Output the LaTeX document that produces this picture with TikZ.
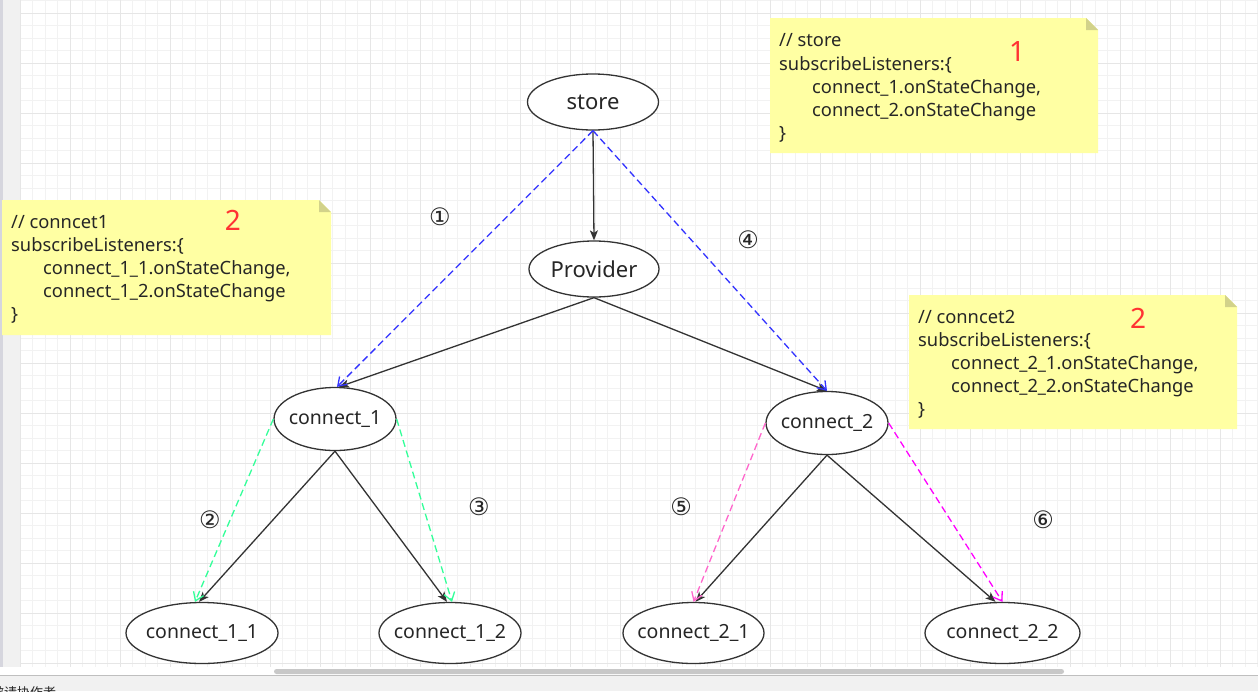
\documentclass[tikz,border=0pt]{standalone}
\usepackage{fontspec}
\setmainfont{Noto Sans}
\newfontfamily\cjkfont{Noto Sans CJK SC}
\newfontfamily\circfont{DejaVu Sans}
\usetikzlibrary{shapes.geometric,arrows.meta}

\definecolor{gridminor}{HTML}{F2F2F2}
\definecolor{gridmajor}{HTML}{E6E6E6}
\definecolor{edgegray}{HTML}{333333}
\definecolor{inkgray}{HTML}{262626}
\definecolor{noteyellow}{HTML}{FFFFA3}
\definecolor{notefold}{HTML}{D2D28A}
\definecolor{notered}{HTML}{FF3333}
\definecolor{linkblue}{HTML}{3333FF}
\definecolor{linkgreen}{HTML}{33FF99}
\definecolor{linkpink}{HTML}{FF66CC}
\definecolor{linkmagenta}{HTML}{FF00FF}
\definecolor{panelgray}{HTML}{F1F1F1}
\definecolor{stripdark}{HTML}{D6D6DE}
\definecolor{thumbgray}{HTML}{C8C8C8}

% label whose width does not stretch the ellipse around it
\newcommand\ellabel[1]{\makebox[0pt]{#1}}

\tikzset{
  ell/.style={ellipse, draw=edgegray, line width=1.3pt, fill=white,
    inner sep=0pt, text=inkgray},
  bigell/.style={ell, font=\fontsize{22}{26}\selectfont},
  smallell/.style={ell, font=\fontsize{19.5}{22}\selectfont},
  solidlink/.style={draw=edgegray, line width=1.3pt,
    -{Stealth[length=10pt,width=8pt,inset=2.5pt]}},
  dashlink/.style={line width=1.3pt, dash pattern=on 7pt off 4pt,
    -{Straight Barb[length=8pt,width=11pt]}},
  circnum/.style={inner sep=0pt, text=inkgray,
    font=\circfont\fontsize{24}{26}\selectfont},
  notetext/.style={anchor=base west, inner sep=0pt, text=inkgray,
    font=\fontsize{18.3}{22}\selectfont},
  rednum/.style={anchor=base, inner sep=0pt, text=notered,
    font=\fontsize{28}{30}\selectfont},
}

% sticky note: left, top, right, bottom
\newcommand\notecard[4]{%
  \fill[noteyellow] (#1,#2) -- ([xshift=-12pt]#3,#2) -- ([yshift=-12pt]#3,#2)
    -- (#3,#4) -- (#1,#4) -- cycle;
  \fill[notefold] ([xshift=-12pt]#3,#2) -- ([xshift=-12pt,yshift=-12pt]#3,#2)
    -- ([yshift=-12pt]#3,#2) -- cycle;
}

\begin{document}
\begin{tikzpicture}[x=1pt,y=-1pt]
\useasboundingbox (0,0) rectangle (1258,691);
\fill[white] (0,0) rectangle (1258,691);

% canvas grid
\foreach \x in {20,32.5,...,1258} \draw[gridminor, line width=1pt] (\x,0) -- (\x,667);
\foreach \y in {0.5,13,...,667} \draw[gridminor, line width=1pt] (20,\y) -- (1258,\y);
\foreach \x in {20,70,...,1258} \draw[gridmajor, line width=1pt] (\x,0) -- (\x,667);
\foreach \y in {13,63,...,667} \draw[gridmajor, line width=1pt] (20,\y) -- (1258,\y);

% left rail and bottom panel
\fill[panelgray] (0,0) rectangle (20,667);
\fill[stripdark] (0,0) rectangle (3,667);
\draw[black!25, line width=1pt] (0,675.5) -- (1258,675.5);
\fill[panelgray] (0,676) rectangle (1258,691);
\fill[thumbgray, rounded corners=2.5pt] (274,669) rectangle (1064,674);
\node[anchor=base west, inner sep=0pt, text=inkgray,
  font=\cjkfont\fontsize{13}{13}\selectfont] (collab) at (-9,697) {邀请协作者};

% notes
\notecard{770}{18}{1098}{153}
\notecard{2}{200}{331}{335}
\notecard{909}{295}{1237}{429}

\node[notetext] (s1a) at (779,46.5) {// store};
\node[notetext] (s1b) at (779,70) {subscribeListeners:\{};
\node[notetext] (s1c) at (812,93) {connect\_1.onStateChange,};
\node[notetext] (s1d) at (812,116) {connect\_2.onStateChange};
\node[notetext] (s1e) at (779,139) {\}};
\node[rednum] (r1) at (1017,61) {1};

\node[notetext] (s2a) at (11,228) {// conncet1};
\node[notetext] (s2b) at (11,251) {subscribeListeners:\{};
\node[notetext] (s2c) at (43,274) {connect\_1\_1.onStateChange,};
\node[notetext] (s2d) at (43,297) {connect\_1\_2.onStateChange};
\node[notetext] (s2e) at (11,320) {\}};
\node[rednum] (r2) at (233,230) {2};

\node[notetext] (s3a) at (918,323) {// conncet2};
\node[notetext] (s3b) at (918,346) {subscribeListeners:\{};
\node[notetext] (s3c) at (951,369) {connect\_2\_1.onStateChange,};
\node[notetext] (s3d) at (951,392) {connect\_2\_2.onStateChange};
\node[notetext] (s3e) at (918,415) {\}};
\node[rednum] (r3) at (1138,328) {2};

% tree nodes
\node[bigell, minimum width=131pt, minimum height=56pt] (store) at (593,102) {\ellabel{store}};
\node[bigell, minimum width=130pt, minimum height=56pt] (prov) at (594,269) {\ellabel{Provider}};
\node[smallell, minimum width=122pt, minimum height=63pt] (c1) at (335,419) {\ellabel{connect\_1}};
\node[smallell, minimum width=122pt, minimum height=63pt] (c2) at (827,423) {\ellabel{connect\_2}};
\node[smallell, minimum width=152pt, minimum height=61pt] (c11) at (202,633) {\ellabel{connect\_1\_1}};
\node[smallell, minimum width=142pt, minimum height=61pt] (c12) at (450,633) {\ellabel{connect\_1\_2}};
\node[smallell, minimum width=141pt, minimum height=61pt] (c21) at (693.5,633) {\ellabel{connect\_2\_1}};
\node[smallell, minimum width=155pt, minimum height=61pt] (c22) at (1002.5,633) {\ellabel{connect\_2\_2}};

% ownership links
\draw[solidlink] (store.south) -- (prov.north);
\draw[solidlink] (prov.south) -- ([xshift=4pt]c1.north);
\draw[solidlink] (prov.south) -- (c2.north);
\draw[solidlink] (c1.south) -- ([xshift=-3pt]c11.north);
\draw[solidlink] (c1.south) -- ([xshift=-3pt]c12.north);
\draw[solidlink] (c2.south) -- ([xshift=2pt]c21.north);
\draw[solidlink] (c2.south) -- ([xshift=-7pt]c22.north);

% subscription links
\draw[dashlink, linkblue] (store.south) -- ([xshift=2pt]c1.north);
\draw[dashlink, linkblue] (store.south) -- (c2.north);
\draw[dashlink, linkgreen] (c1.west) -- ([xshift=-7pt]c11.north);
\draw[dashlink, linkgreen] (c1.east) -- ([xshift=2pt]c12.north);
\draw[dashlink, linkpink] (c2.west) -- (c21.north);
\draw[dashlink, linkmagenta] (c2.east) -- (c22.north);

% order labels
\node[circnum] (n1) at (440,217) {①};
\node[circnum] (n2) at (210,520) {②};
\node[circnum] (n3) at (479,507) {③};
\node[circnum] (n4) at (748,240) {④};
\node[circnum] (n5) at (681,507) {⑤};
\node[circnum] (n6) at (1043,520) {⑥};
\end{tikzpicture}
\end{document}
